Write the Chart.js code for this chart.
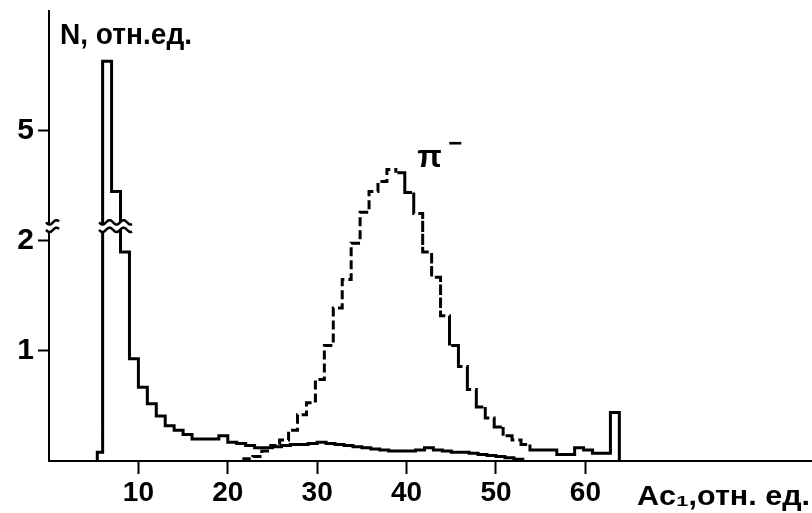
<!DOCTYPE html>
<html><head><meta charset="utf-8">
<script src="https://cdn.jsdelivr.net/npm/chart.js@4.4.1/dist/chart.umd.min.js"></script>
<style>html,body{margin:0;padding:0;background:#fff}#wrap{width:812px;height:513px;position:relative}</style>
</head><body><div id="wrap"><canvas id="c"></canvas></div>
<script>
// ---- tick labels ----
const xTickLabels = [10, 20, 30, 40, 50, 60];
const yTickLabels = [1, 2, 5];
// y axis is broken above 2: above the break one display unit = 3 real units
const breakValue = 2;
const breakCompression = 3;

// ---- solid histogram: bin edges and contents (relative units) ----
const solidEdges = [5.4, 6, 7, 8, 9, 10, 11, 12, 13, 14, 15, 16, 17, 18, 19, 20, 21, 22, 23, 24, 25, 26, 27, 28, 29, 30,
  31, 32, 33, 34, 35, 36, 37, 38, 39, 40, 41, 42, 43, 44, 45, 46, 47, 48, 49, 50, 51, 52, 53];
const solidValues = [0.08, 6.9, 3.35, 1.9, 0.93, 0.67, 0.52, 0.41, 0.32, 0.28, 0.24, 0.20, 0.20, 0.20, 0.23, 0.17, 0.16,
  0.14, 0.12, 0.12, 0.13, 0.14, 0.15, 0.15, 0.16, 0.17, 0.16, 0.15, 0.14, 0.13, 0.12, 0.11, 0.10, 0.09, 0.09, 0.09,
  0.10, 0.12, 0.10, 0.09, 0.08, 0.08, 0.07, 0.06, 0.05, 0.04, 0.03, 0.015];

// ---- pi- histogram (dashed) ----
const pionEdges = [21.8, 22.8, 23.8, 24.8, 25.8, 26.8, 27.8, 28.8, 29.8, 30.8, 31.8, 32.8, 33.8, 34.8, 35.8, 36.8, 37.8,
  38.8, 39.8, 40.8, 41.8, 42.8, 43.8, 44.8, 45.8, 46.8, 47.8, 48.8, 49.8, 50.8, 51.8, 52.8, 53.8, 54.8, 55.8, 56.8,
  57.8, 58.8, 59.8, 60.8, 61.8, 62.8, 63.8];
const pionValues = [0.02, 0.04, 0.09, 0.14, 0.19, 0.28, 0.42, 0.53, 0.74, 1.05, 1.39, 1.65, 1.98, 2.78, 3.35, 3.62,
  3.95, 3.86, 3.32, 2.75, 1.90, 1.67, 1.32, 1.05, 0.86, 0.65, 0.49, 0.39, 0.31, 0.23, 0.19, 0.15, 0.10, 0.10, 0.10,
  0.06, 0.06, 0.12, 0.10, 0.07, 0.07, 0.44];
const pionDashEnd = 53.8; // tail beyond this is drawn as a continuous line

// map a real value onto the broken y axis
function toDisplay(v) { return v <= breakValue ? v : breakValue + (v - breakValue) / breakCompression; }

function histPoints(edges, values) {
  const pts = [{ x: edges[0], y: 0 }];
  for (let i = 0; i < values.length; i++) {
    const d = toDisplay(values[i]);
    pts.push({ x: edges[i], y: d });
    pts.push({ x: edges[i + 1], y: d });
  }
  pts.push({ x: edges[edges.length - 1], y: 0 });
  return pts;
}

const FONT = "'Liberation Sans', Arial, sans-serif";

function fitText(ctx, text, x, baseline, width, font) {
  ctx.save();
  ctx.font = font;
  ctx.textBaseline = 'alphabetic';
  ctx.textAlign = 'left';
  const w = ctx.measureText(text).width;
  ctx.translate(x, baseline);
  ctx.scale(width / w, 1);
  ctx.fillStyle = '#000';
  ctx.fillText(text, 0, 0);
  ctx.restore();
}

function breakMark(ctx, x0, x1, yc, gap) {
  const amp = 2.2, period = 14;
  const f = (px, off) => yc + off + amp * Math.sin((px - x0) / period * 2 * Math.PI);
  ctx.save();
  ctx.fillStyle = '#fff';
  ctx.beginPath();
  for (let px = x0; px <= x1; px++) { const yy = f(px, -gap / 2); px === x0 ? ctx.moveTo(px, yy) : ctx.lineTo(px, yy); }
  for (let px = x1; px >= x0; px--) ctx.lineTo(px, f(px, gap / 2));
  ctx.closePath();
  ctx.fill();
  ctx.strokeStyle = '#000';
  ctx.lineWidth = 2.5;
  [-gap / 2, gap / 2].forEach(off => {
    ctx.beginPath();
    for (let px = x0; px <= x1; px++) { const yy = f(px, off); px === x0 ? ctx.moveTo(px, yy) : ctx.lineTo(px, yy); }
    ctx.stroke();
  });
  ctx.restore();
}

const decor = {
  id: 'decor',
  afterDraw(chart) {
    const { ctx, scales: { x, y } } = chart;
    // axis break marks
    const yb = y.getPixelForValue(2.135);
    breakMark(ctx, x.getPixelForValue(0) - 3, x.getPixelForValue(0) + 10, yb, 7.5);
    breakMark(ctx, x.getPixelForValue(5.6), x.getPixelForValue(9.3), yb, 7.5);
    // axis titles
    fitText(ctx, 'N, отн.ед.', 60, 44, 132, 'bold 30px ' + FONT);
    fitText(ctx, 'Ac\u2081,отн. ед.', 637, 505, 173, 'bold 28px ' + FONT);
    // pi- label
    const px = x.getPixelForValue(41.2), py = y.getPixelForValue(2.67);
    ctx.save();
    ctx.fillStyle = '#000';
    ctx.font = 'bold 32px ' + FONT;
    ctx.textBaseline = 'alphabetic';
    ctx.fillText('π', px, py);
    ctx.font = 'bold 24px ' + FONT;
    ctx.textBaseline = 'middle';
    ctx.fillText('\u2212', px + 31, py - 23);
    ctx.restore();
  }
};

new Chart(document.getElementById('c'), {
  type: 'line',
  data: {
    datasets: [
      {
        label: 'all',
        data: histPoints(solidEdges, solidValues),
        borderColor: '#000', borderWidth: 3, pointRadius: 0, fill: false, tension: 0,
        borderJoinStyle: 'miter'
      },
      {
        label: 'π−',
        data: histPoints(pionEdges, pionValues),
        borderColor: '#000', borderWidth: 3, pointRadius: 0, fill: false, tension: 0,
        borderJoinStyle: 'miter',
        segment: { borderDash: c => (c.p0.parsed.x >= pionDashEnd ? [] : [9, 4]) }
      }
    ]
  },
  options: {
    responsive: true, maintainAspectRatio: false, animation: false,
    layout: { padding: { top: 11, left: 0, right: 0, bottom: 0 } },
    plugins: { legend: { display: false }, tooltip: { enabled: false } },
    scales: {
      x: {
        type: 'linear', min: 0, max: 85.35,
        afterFit: s => { s.height = 52; s.paddingLeft = 0; s.paddingRight = 0; },
        afterBuildTicks: s => { s.ticks = xTickLabels.map(v => ({ value: v })); },
        ticks: { color: '#000', font: { family: FONT, size: 28, weight: 'bold' }, padding: 2, maxRotation: 0,
          callback: v => String(v) },
        grid: { drawOnChartArea: false, drawTicks: true, tickLength: 13, tickColor: '#000', tickWidth: 2 },
        border: { display: true, color: '#000', width: 2 }
      },
      y: {
        type: 'linear', min: 0, max: 4.09,
        afterFit: s => { s.width = 49; s.paddingTop = 0; s.paddingBottom = 0; },
        afterBuildTicks: s => { s.ticks = yTickLabels.map(v => ({ value: toDisplay(v) })); },
        ticks: { color: '#000', font: { family: FONT, size: 30, weight: 'bold' }, padding: 4,
          callback: (v, i) => String(yTickLabels[i]) },
        grid: { drawOnChartArea: false, drawTicks: true, tickLength: 11, tickColor: '#000', tickWidth: 2 },
        border: { display: true, color: '#000', width: 2 }
      }
    }
  },
  plugins: [decor]
});
</script></body></html>
